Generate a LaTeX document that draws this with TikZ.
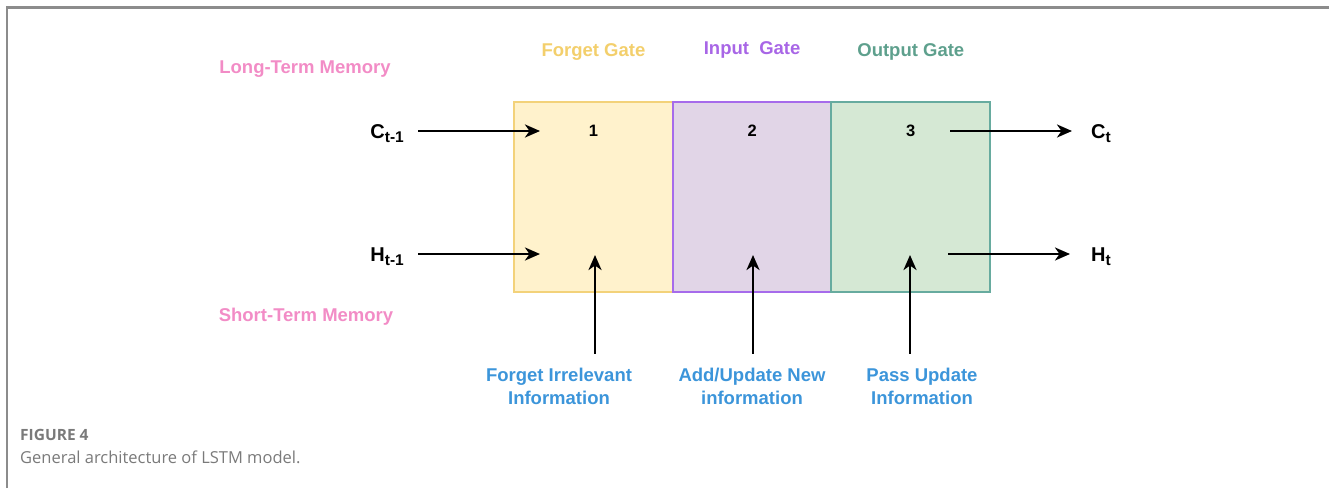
\documentclass[tikz,border=0pt]{standalone}
\usepackage{fontspec}
\setmainfont{Liberation Sans}
\newfontfamily\capfont{Open Sans}
\usepackage{xcolor}
\usetikzlibrary{arrows.meta,positioning}

\definecolor{forgetfill}{HTML}{FFF2CC}
\definecolor{forgetline}{HTML}{F3D27A}
\definecolor{inputfill}{HTML}{E1D5E7}
\definecolor{inputline}{HTML}{A66BEB}
\definecolor{outputfill}{HTML}{D5E8D4}
\definecolor{outputline}{HTML}{67AB9F}
\definecolor{memtext}{HTML}{F28CC6}
\definecolor{forgettext}{HTML}{F3CF6C}
\definecolor{inputtext}{HTML}{A866E6}
\definecolor{outputtext}{HTML}{5EA08D}
\definecolor{infotext}{HTML}{3C95DA}
\definecolor{framegray}{HTML}{8C8C8C}
\definecolor{capgray}{HTML}{7A7A7A}

\newcommand{\lowidx}[1]{\raisebox{-0.42ex}{\fontsize{15.5}{15.5}\selectfont #1}}

\begin{document}
\begin{tikzpicture}[
		x=1pt, y=-1pt,
		font=\bfseries\fontsize{18.5}{23}\selectfont,
		gate/.style={draw, line width=2pt, inner sep=0pt, outer sep=0pt,
			minimum width=158.7pt, minimum height=190pt},
		arrow/.style={-{Stealth[length=15pt, width=13pt, inset=4.5pt]}, line width=2.7pt},
		sig/.style={inner sep=2pt, font=\bfseries\fontsize{20}{24}\selectfont},
		title/.style={inner sep=0pt},
		info/.style={align=center, text=infotext, inner sep=2pt, font=\bfseries\fontsize{18.5}{23}\selectfont},
		num/.style={font=\bfseries\fontsize{16.5}{16.5}\selectfont},
		]
		
		% frame
		\useasboundingbox (0,0) rectangle (1329,488);
		\draw[framegray, line width=2.5pt] (7,488) -- (7,7.5) -- (1329,7.5);
		
		% the three gates
		\node[gate, fill=forgetfill, draw=forgetline] (forget) at (593.4,197) {};
		\node[gate, fill=inputfill, draw=inputline, right=0pt of forget] (input) {};
		\node[gate, fill=outputfill, draw=outputline, right=0pt of input] (output) {};
		
		\node[num] (n1) at ([yshift=-29pt]forget.north) {1};
		\node[num] (n2) at ([yshift=-29pt]input.north) {2};
		\node[num] (n3) at ([yshift=-29pt]output.north) {3};
		
		\node[title, text=forgettext] (tforget) at ([yshift=50pt]forget.north) {Forget Gate};
		\node[title, text=inputtext] (tinput) at ([yshift=52pt]input.north) {Input\ \ Gate};
		\node[title, text=outputtext] (toutput) at ([yshift=50pt]output.north) {Output Gate};
		
		\node[title, text=memtext] (longmem) at (305,69) {Long-Term Memory};
		\node[title, text=memtext] (shortmem) at (306,317) {Short-Term Memory};
		
		% states in and out
		\node[sig, anchor=base east] (cprev) at (406,138) {C\lowidx{t-1}};
		\node[sig, anchor=base east] (hprev) at (406,261) {H\lowidx{t-1}};
		\node[sig, anchor=base west] (cnext) at (1089,138) {C\lowidx{t}};
		\node[sig, anchor=base west] (hnext) at (1089,261) {H\lowidx{t}};
		
		\coordinate (cin) at (540,131);
		\coordinate (hin) at (540,254);
		\coordinate (cout) at (950,131);
		\coordinate (hout) at (948,254);
		
		\draw[arrow, shorten <=12pt] (cprev.east |- cin) -- (cin);
		\draw[arrow, shorten <=12pt] (hprev.east |- hin) -- (hin);
		\draw[arrow, shorten >=17pt] (cout) -- (cnext.west |- cout);
		\draw[arrow, shorten >=19pt] (hout) -- (hnext.west |- hout);
		
		% what each gate does
		\node[info] (forgetinfo) at (559,386) {Forget Irrelevant\\Information};
		\node[info] (inputinfo) at (752,386) {Add/Update New\\information};
		\node[info] (outputinfo) at (922,386) {Pass Update\\Information};
		
		\coordinate (fup) at (595,255);
		\coordinate (iup) at (753,255);
		\coordinate (oup) at (910,255);
		
		\draw[arrow, shorten <=12pt] (fup |- forgetinfo.north) -- (fup);
		\draw[arrow, shorten <=12pt] (iup |- inputinfo.north) -- (iup);
		\draw[arrow, shorten <=12pt] (oup |- outputinfo.north) -- (oup);
		
		% caption
		\node[anchor=base west, inner sep=0pt, text=capgray, font=\capfont\fontsize{15.5}{15.5}\selectfont\bfseries] (figno) at (20,440) {FIGURE 4};
		\node[anchor=base west, inner sep=0pt, text=capgray, font=\capfont\fontsize{16.5}{16.5}\selectfont] (figcap) at (20,463) {General architecture of LSTM model.};
		
	\end{tikzpicture}
\end{document}
